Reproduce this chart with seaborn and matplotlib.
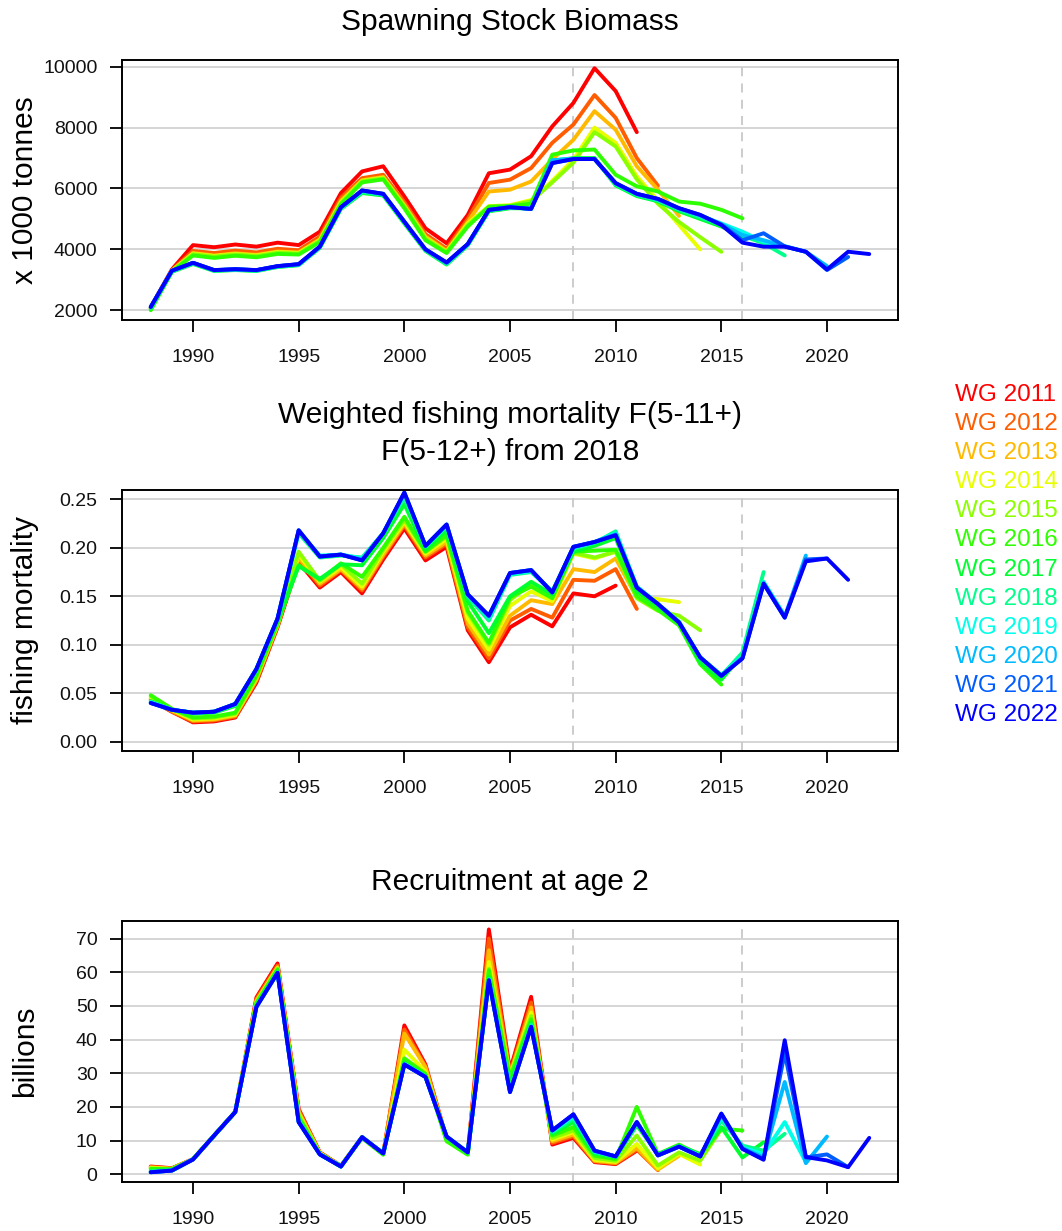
import matplotlib
matplotlib.use("Agg")
import numpy as np
import pandas as pd
import matplotlib.pyplot as plt
import seaborn as sns

# Assessment working groups and their colours (red -> blue ramp)
wg_labels = ["WG 2011", "WG 2012", "WG 2013", "WG 2014", "WG 2015", "WG 2016",
             "WG 2017", "WG 2018", "WG 2019", "WG 2020", "WG 2021", "WG 2022"]
wg_colors = ["#FF0000", "#FF5D00", "#FFBA00", "#E8FF00", "#8BFF00", "#2EFF00",
             "#00FF2E", "#00FF8B", "#00FFE8", "#00BAFF", "#005DFF", "#0000FF"]
first_year = 1988

# Spawning stock biomass (x 1000 t), each series starts in 1988
ssb_2011 = [2100, 3340, 4140, 4070, 4160, 4090, 4220, 4140, 4580, 5850, 6560, 6730, 5740, 4690, 4200, 5130,
            6500, 6620, 7060, 8040, 8810, 9950, 9200, 7850]
ssb_2012 = [2080, 3320, 3950, 3880, 3960, 3900, 4020, 3970, 4420, 5700, 6340, 6450, 5550, 4500, 4020, 5000,
            6180, 6290, 6670, 7500, 8100, 9070, 8320, 7000, 6090]
ssb_2013 = [2060, 3300, 3880, 3800, 3870, 3820, 3930, 3900, 4330, 5600, 6270, 6380, 5460, 4420, 3950, 4900,
            5900, 5960, 6230, 6950, 7600, 8540, 7930, 6730, 5960, 5100]
ssb_2014 = [2040, 3290, 3860, 3780, 3850, 3800, 3910, 3880, 4300, 5550, 6250, 6350, 5420, 4380, 3920, 4850,
            5420, 5450, 5620, 6250, 6950, 8000, 7500, 6400, 5600, 4800, 4000]
ssb_2015 = [2030, 3280, 3840, 3760, 3830, 3780, 3890, 3860, 4280, 5520, 6230, 6330, 5400, 4350, 3900, 4800,
            5400, 5430, 5580, 6200, 6850, 7850, 7380, 6300, 5500, 4900, 4400, 3920]
ssb_2016 = [2000, 3270, 3800, 3720, 3790, 3740, 3850, 3830, 4240, 5480, 6200, 6300, 5350, 4300, 3880, 4750,
            5400, 5420, 5500, 7110, 7250, 7280, 6450, 6070, 5900, 5570, 5500, 5300, 5020]
ssb_2017 = [2050, 3260, 3520, 3290, 3320, 3290, 3420, 3480, 4050, 5330, 5850, 5770, 4850, 3950, 3500, 4130,
            5250, 5350, 5350, 6900, 7000, 7000, 6100, 5750, 5580, 5250, 5000, 4750, 4450, 4250]
ssb_2018 = [2080, 3280, 3540, 3300, 3330, 3300, 3430, 3490, 4070, 5350, 5880, 5790, 4880, 3970, 3520, 4150,
            5270, 5370, 5340, 6920, 6980, 6980, 6130, 5780, 5600, 5300, 5050, 4800, 4450, 4200, 3800]
ssb_2019 = [2100, 3290, 3550, 3310, 3340, 3310, 3440, 3500, 4080, 5370, 5920, 5810, 4900, 3990, 3550, 4160,
            5290, 5380, 5330, 6930, 6970, 6970, 6160, 5810, 5640, 5340, 5100, 4850, 4580, 4250, 4100, 3920]
ssb_2020 = [2105, 3295, 3555, 3315, 3345, 3315, 3445, 3510, 4085, 5380, 5930, 5820, 4905, 3995, 3560, 4170,
            5295, 5385, 5330, 6930, 6970, 6970, 6170, 5820, 5650, 5345, 5120, 4830, 4470, 4300, 4100, 3920, 3450]
ssb_2021 = [2108, 3298, 3558, 3318, 3348, 3318, 3448, 3512, 4088, 5383, 5933, 5823, 4908, 3998, 3565, 4173,
            5296, 5385, 5330, 6833, 6967, 6967, 6173, 5823, 5655, 5350, 5130, 4810, 4300, 4530, 4100, 3920, 3320, 3750]
ssb_2022 = [2110, 3300, 3560, 3320, 3350, 3320, 3450, 3515, 4090, 5385, 5935, 5825, 4910, 4000, 3570, 4176,
            5297, 5385, 5330, 6835, 6967, 6967, 6176, 5825, 5660, 5352, 5132, 4802, 4220, 4088, 4088, 3923, 3340,
            3923, 3846]

# Weighted fishing mortality, each series starts in 1988 and ends the year before the WG
f_2011 = [0.043, 0.031, 0.020, 0.021, 0.025, 0.061, 0.118, 0.185, 0.159, 0.175, 0.153, 0.188, 0.220, 0.187,
          0.201, 0.115, 0.082, 0.118, 0.131, 0.119, 0.153, 0.150, 0.161]
f_2012 = [0.044, 0.031, 0.021, 0.022, 0.026, 0.063, 0.119, 0.188, 0.161, 0.177, 0.156, 0.191, 0.223, 0.190,
          0.204, 0.118, 0.086, 0.125, 0.137, 0.128, 0.167, 0.166, 0.178, 0.137]
f_2013 = [0.045, 0.032, 0.022, 0.023, 0.027, 0.064, 0.120, 0.190, 0.163, 0.178, 0.158, 0.193, 0.225, 0.192,
          0.206, 0.122, 0.090, 0.130, 0.146, 0.142, 0.178, 0.175, 0.189, 0.149, 0.145]
f_2014 = [0.046, 0.033, 0.023, 0.024, 0.028, 0.066, 0.121, 0.193, 0.165, 0.180, 0.160, 0.196, 0.227, 0.194,
          0.209, 0.127, 0.095, 0.140, 0.155, 0.145, 0.194, 0.189, 0.196, 0.149, 0.147, 0.144]
f_2015 = [0.047, 0.034, 0.024, 0.025, 0.029, 0.067, 0.122, 0.196, 0.166, 0.183, 0.163, 0.198, 0.229, 0.196,
          0.212, 0.133, 0.100, 0.146, 0.163, 0.150, 0.195, 0.190, 0.196, 0.148, 0.135, 0.130, 0.115]
f_2016 = [0.048, 0.034, 0.025, 0.026, 0.030, 0.068, 0.122, 0.182, 0.167, 0.184, 0.170, 0.200, 0.232, 0.196,
          0.213, 0.135, 0.102, 0.149, 0.160, 0.148, 0.196, 0.197, 0.198, 0.150, 0.136, 0.120, 0.080, 0.059]
f_2017 = [0.042, 0.033, 0.029, 0.030, 0.037, 0.073, 0.125, 0.181, 0.168, 0.183, 0.182, 0.210, 0.245, 0.198,
          0.218, 0.145, 0.112, 0.150, 0.165, 0.152, 0.196, 0.202, 0.210, 0.155, 0.140, 0.122, 0.082, 0.064, 0.090]
f_2018 = [0.041, 0.033, 0.030, 0.031, 0.038, 0.075, 0.126, 0.215, 0.190, 0.192, 0.190, 0.215, 0.252, 0.201,
          0.222, 0.150, 0.125, 0.172, 0.175, 0.155, 0.199, 0.205, 0.217, 0.160, 0.142, 0.124, 0.086, 0.068,
          0.092, 0.175]
f_2019 = [0.041, 0.033, 0.030, 0.031, 0.039, 0.075, 0.127, 0.217, 0.192, 0.193, 0.189, 0.215, 0.255, 0.202,
          0.223, 0.151, 0.128, 0.173, 0.176, 0.155, 0.200, 0.206, 0.215, 0.160, 0.142, 0.123, 0.087, 0.069,
          0.088, 0.165, 0.130]
f_2020 = [0.040, 0.033, 0.030, 0.031, 0.039, 0.075, 0.127, 0.218, 0.191, 0.193, 0.188, 0.215, 0.256, 0.202,
          0.224, 0.152, 0.129, 0.174, 0.177, 0.154, 0.201, 0.206, 0.214, 0.159, 0.142, 0.123, 0.087, 0.068,
          0.087, 0.164, 0.129, 0.192]
f_2021 = [0.040, 0.033, 0.030, 0.031, 0.039, 0.075, 0.127, 0.218, 0.191, 0.193, 0.187, 0.215, 0.257, 0.202,
          0.224, 0.152, 0.130, 0.174, 0.177, 0.154, 0.201, 0.206, 0.213, 0.159, 0.142, 0.123, 0.087, 0.068,
          0.086, 0.163, 0.128, 0.188, 0.189]
f_2022 = [0.040, 0.033, 0.030, 0.031, 0.039, 0.075, 0.127, 0.218, 0.191, 0.193, 0.187, 0.215, 0.257, 0.202,
          0.224, 0.152, 0.130, 0.174, 0.177, 0.154, 0.201, 0.206, 0.213, 0.159, 0.142, 0.123, 0.087, 0.068,
          0.086, 0.163, 0.128, 0.186, 0.189, 0.167]

# Recruitment at age 2 (billions), each series starts in 1988
rec_2011 = [2.3, 1.8, 4.5, 11.5, 18.5, 52.5, 62.6, 19.4, 6.5, 2.5, 11.0, 6.0, 44.2, 32.6, 10.5, 6.0, 72.7, 30.8,
            52.7, 8.8, 10.8, 3.6, 3.0, 7.0]
rec_2012 = [2.2, 1.7, 4.5, 11.5, 18.5, 52.0, 62.0, 19.0, 6.4, 2.5, 11.0, 6.0, 43.0, 32.0, 10.5, 6.0, 70.0, 30.0,
            51.0, 9.3, 11.3, 3.8, 3.2, 7.3, 1.2]
rec_2013 = [2.0, 1.6, 4.5, 11.5, 18.5, 51.5, 61.5, 18.5, 6.3, 2.4, 11.0, 6.0, 41.8, 31.8, 10.3, 6.0, 66.5, 29.5,
            49.5, 9.8, 11.8, 4.0, 3.4, 7.8, 1.4, 5.5]
rec_2014 = [1.9, 1.6, 4.5, 11.5, 18.5, 51.2, 61.2, 18.0, 6.2, 2.4, 11.0, 6.0, 37.0, 30.5, 10.2, 6.0, 63.0, 29.0,
            48.0, 10.3, 12.5, 4.3, 3.7, 9.0, 1.8, 6.0, 2.9]
rec_2015 = [1.7, 1.5, 4.5, 11.5, 18.5, 51.0, 61.0, 17.5, 6.1, 2.4, 10.8, 5.9, 34.5, 29.8, 10.0, 6.0, 61.0, 29.0,
            47.0, 10.8, 13.0, 4.8, 4.0, 11.5, 2.6, 6.5, 4.0, 13.5]
rec_2016 = [1.6, 1.5, 4.5, 11.5, 18.5, 50.8, 60.8, 17.0, 6.0, 2.4, 10.8, 5.8, 34.3, 29.8, 9.8, 5.8, 60.6, 28.5,
            46.0, 11.5, 14.0, 5.5, 4.5, 20.0, 6.0, 8.8, 5.6, 13.5, 13.0]
rec_2017 = [1.0, 1.3, 4.4, 11.5, 18.5, 50.2, 60.3, 16.3, 6.0, 2.3, 11.0, 6.2, 33.2, 29.3, 11.0, 6.3, 58.5, 26.5,
            45.0, 12.0, 15.5, 6.2, 5.0, 14.5, 6.0, 8.5, 6.0, 14.0, 5.0, 9.5]
rec_2018 = [0.8, 1.2, 4.4, 11.5, 18.5, 49.9, 60.0, 15.8, 5.9, 2.3, 11.0, 6.2, 32.8, 29.0, 11.1, 6.4, 58.0, 25.0,
            44.5, 12.5, 16.5, 6.5, 5.2, 15.0, 5.8, 8.3, 5.5, 16.0, 8.5, 7.0, 12.0]
rec_2019 = [0.7, 1.1, 4.4, 11.5, 18.5, 49.8, 59.9, 15.6, 5.9, 2.3, 11.0, 6.2, 32.7, 28.9, 11.2, 6.5, 57.8, 24.6,
            44.0, 12.8, 17.2, 6.8, 5.3, 15.3, 5.7, 8.2, 5.4, 17.0, 8.0, 6.0, 15.5, 3.6]
rec_2020 = [0.6, 1.1, 4.4, 11.5, 18.5, 49.7, 59.8, 15.5, 5.9, 2.3, 11.0, 6.2, 32.6, 28.9, 11.2, 6.5, 57.6, 24.4,
            43.8, 13.0, 17.6, 7.0, 5.3, 15.5, 5.6, 8.2, 5.3, 17.5, 7.8, 5.0, 27.4, 3.3, 11.2]
rec_2021 = [0.6, 1.1, 4.4, 11.5, 18.5, 49.7, 59.8, 15.5, 5.9, 2.3, 11.0, 6.2, 32.6, 28.9, 11.2, 6.5, 57.6, 24.4,
            43.8, 13.0, 17.8, 7.0, 5.3, 15.5, 5.6, 8.2, 5.3, 18.0, 7.6, 4.5, 36.0, 5.0, 5.9, 2.1]
rec_2022 = [0.6, 1.1, 4.4, 11.5, 18.5, 49.7, 59.8, 15.5, 5.9, 2.3, 11.0, 6.2, 32.6, 28.9, 11.2, 6.5, 57.6, 24.4,
            43.8, 13.0, 17.8, 7.0, 5.3, 15.5, 5.6, 8.2, 5.3, 18.0, 7.5, 4.3, 39.8, 5.1, 4.1, 2.1, 10.8]

ssb_runs = [ssb_2011, ssb_2012, ssb_2013, ssb_2014, ssb_2015, ssb_2016,
            ssb_2017, ssb_2018, ssb_2019, ssb_2020, ssb_2021, ssb_2022]
f_runs = [f_2011, f_2012, f_2013, f_2014, f_2015, f_2016,
          f_2017, f_2018, f_2019, f_2020, f_2021, f_2022]
rec_runs = [rec_2011, rec_2012, rec_2013, rec_2014, rec_2015, rec_2016,
            rec_2017, rec_2018, rec_2019, rec_2020, rec_2021, rec_2022]


def to_long(runs):
    rows = []
    for wg, vals in zip(wg_labels, runs):
        for i, v in enumerate(vals):
            rows.append({"wg": wg, "year": first_year + i, "value": v})
    return pd.DataFrame(rows)


sns.set_style("white")
plt.rcParams["font.family"] = ["Liberation Sans", "DejaVu Sans"]

W, H = 1062, 1231
fig = plt.figure(figsize=(W / 100, H / 100), dpi=100)
palette = dict(zip(wg_labels, wg_colors))


def px_axes(top, bottom, left=122, right=898):
    return fig.add_axes([left / W, 1 - bottom / H, (right - left) / W, (bottom - top) / H])


def draw_panel(ax, runs, ylim, yticks, fmt):
    df = to_long(runs)
    for yv in yticks:
        ax.axhline(yv, color="#d2d2d2", lw=1.3, zorder=0)
    for xv in [2008, 2016]:
        ax.axvline(xv, color="#c8c8c8", lw=1.3, ls=(0, (5, 4)), zorder=0)
    sns.lineplot(data=df, x="year", y="value", hue="wg", hue_order=wg_labels, palette=palette,
                 linewidth=2.8, legend=False, estimator=None, sort=False, ax=ax)
    ax.set_xlim(1986.64, 2023.36)
    ax.set_ylim(*ylim)
    ax.set_xticks([1990, 1995, 2000, 2005, 2010, 2015, 2020])
    ax.set_yticks(yticks)
    ax.set_yticklabels([fmt.format(v) for v in yticks])
    ax.set_xlabel("")
    ax.set_ylabel("")
    for sp in ax.spines.values():
        sp.set_visible(True)
        sp.set_color("black")
        sp.set_linewidth(1.4)
    ax.tick_params(axis="both", which="major", direction="out", length=8.6, width=1.3,
                   color="black", labelsize=14, labelcolor="#111111", left=True, bottom=True)
    ax.tick_params(axis="x", pad=12)
    ax.tick_params(axis="y", pad=9)


ax1 = px_axes(60, 320)
draw_panel(ax1, ssb_runs, (1680, 10220), [2000, 4000, 6000, 8000, 10000], "{:.0f}")
ax2 = px_axes(490, 751)
draw_panel(ax2, f_runs, (-0.0095, 0.2596), [0.0, 0.05, 0.10, 0.15, 0.20, 0.25], "{:.2f}")
ax3 = px_axes(921, 1182)
draw_panel(ax3, rec_runs, (-2.3, 75.2), [0, 10, 20, 30, 40, 50, 60, 70], "{:.0f}")

# titles
title_kw = dict(ha="center", va="center", fontsize=21.5, color="black")
fig.text(510 / W, 1 - 22 / H, "Spawning Stock Biomass", **title_kw)
fig.text(510 / W, 1 - 415 / H, "Weighted fishing mortality F(5-11+)", **title_kw)
fig.text(510 / W, 1 - 452 / H, "F(5-12+) from 2018", **title_kw)
fig.text(510 / W, 1 - 882 / H, "Recruitment at age 2", **title_kw)

# y axis labels
ylab_kw = dict(ha="center", va="center", rotation=90, fontsize=21.5, color="black")
fig.text(25 / W, 1 - 190 / H, "x 1000 tonnes", **ylab_kw)
fig.text(25 / W, 1 - 620 / H, "fishing mortality", **ylab_kw)
fig.text(25 / W, 1 - 1051 / H, "billions", **ylab_kw)

# legend as coloured text
for i, (lab, col) in enumerate(zip(wg_labels, wg_colors)):
    fig.text(955 / W, 1 - (395 + i * 29.1) / H, lab, ha="left", va="center", fontsize=17.5, color=col)

fig.savefig("out.png", dpi=100)
